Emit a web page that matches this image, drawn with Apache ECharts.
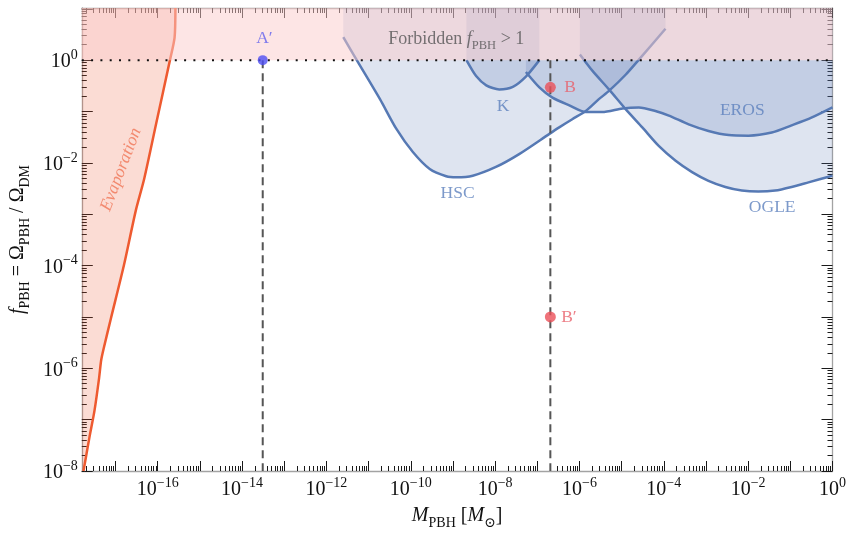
<!DOCTYPE html>
<html><head><meta charset="utf-8">
<script src="https://cdn.jsdelivr.net/npm/echarts@6/dist/echarts.min.js"></script>
<style>html,body{margin:0;padding:0;background:#fff}#c{width:849px;height:535px}</style>
</head><body><div id="c"></div>
<script>
// ---- axis ranges (log10 units) ----
const X_MIN = -17.8, X_MAX = 0;
const Y_MIN = -8, Y_MAX = 1.015;
const xLabelDecades = [-16, -14, -12, -10, -8, -6, -4, -2, 0];
const yLabelDecades = [-8, -6, -4, -2, 0];

// ---- curves: log10(M_PBH / Msun), log10(f_PBH) ----
const evapLogM = [-17.76, -17.62, -17.50, -17.39, -17.34, -17.28, -17.11, -16.80, -16.52, -16.32, -16.04, -15.71, -15.60, -15.58];
const evapLogF = [-8.0, -7.35, -6.83, -6.19, -5.84, -5.61, -5.03, -3.99, -2.93, -2.31, -1.25, 0, 0.44, 1.015];

const hscLogM = [-11.60, -11.28, -10.73, -10.34, -9.95, -9.55, -9.16, -8.92, -8.53, -7.98, -7.43, -6.72, -6.48, -6.17, -5.85, -5.54, -5.30, -4.90, -4.59, -3.96];
const hscLogF = [0.45, 0, -0.76, -1.34, -1.79, -2.12, -2.26, -2.28, -2.25, -2.08, -1.83, -1.44, -1.31, -1.15, -0.99, -0.76, -0.60, -0.28, 0.01, 0.61];

const kLogM = [-8.68, -8.45, -8.21, -7.90, -7.58, -7.27, -6.95];
const kLogF = [0, -0.31, -0.49, -0.57, -0.52, -0.32, 0];

const erosLogM = [-7.27, -6.95, -6.64, -6.24, -5.85, -5.46, -4.98, -4.59, -4.20, -3.88, -3.41, -2.94, -2.46, -1.99, -1.44, -0.97, -0.50, 0];
const erosLogF = [-0.23, -0.53, -0.73, -0.88, -1.01, -1.01, -0.94, -0.92, -0.99, -1.08, -1.25, -1.38, -1.46, -1.47, -1.41, -1.27, -1.12, -0.92];

const ogleLogM = [-5.99, -5.69, -5.30, -4.90, -4.51, -4.12, -3.72, -3.33, -2.94, -2.54, -2.15, -1.76, -1.36, -0.97, -0.57, 0];
const ogleLogF = [0.11, -0.21, -0.57, -0.96, -1.31, -1.67, -1.96, -2.18, -2.35, -2.47, -2.54, -2.56, -2.54, -2.47, -2.38, -2.25];

// ---- benchmark points ----
const pointNames = ['A′', 'B', 'B′'];
const pointLogM = [-13.51, -6.69, -6.69];
const pointLogF = [0, -0.53, -5.0];
const dashLogM = [-13.51, -6.69];
const forbiddenLogF = 0;

// ---- text labels ----
const labelText = ['A′', 'B', 'B′', 'HSC', 'K', 'EROS', 'OGLE', 'Evaporation', 'Forbidden'];
const labelLogM = [-13.47, -6.22, -6.25, -8.89, -7.81, -2.14, -1.43, -16.87, -8.92];
const labelLogF = [0.42, -0.53, -5.0, -2.60, -0.91, -0.97, -2.87, -2.13, 0.45];

// ---------------------------------------------------------------
const SERIF = "'Liberation Serif','DejaVu Serif',serif";
const BLUE_LINE = '#5679b4';
const BLUE_FILL = 'rgba(90,120,180,0.2)';
const BLUE_TEXT = '#5b7fbd';
const SMOOTH = 0.25;
const zip = (a, b) => a.map((v, i) => [v, b[i]]);

const evapPts = zip(evapLogM, evapLogF);
const hscPts = zip(hscLogM, hscLogF);
const kPts = zip(kLogM, kLogF);
const erosPts = zip(erosLogM, erosLogF);
const oglePts = zip(ogleLogM, ogleLogF);

function polygonSeries(points, color, z) {
  return {
    type: 'custom', coordinateSystem: 'cartesian2d', xAxisIndex: 0, yAxisIndex: 0,
    z: z, silent: true, clip: true, animation: false,
    data: [points[0]],
    renderItem: function (params, api) {
      return { type: 'polygon', shape: { points: points.map(p => api.coord(p)) }, style: { fill: color } };
    }
  };
}
function lineSeries(points, color, z, extra) {
  return Object.assign({
    type: 'line', data: points, symbol: 'none', showSymbol: false, silent: true, animation: false,
    xAxisIndex: 0, yAxisIndex: 0, z: z, clip: true,
    lineStyle: { color: color, width: 2.5 }
  }, extra || {});
}
function fillSeries(points, color, origin) {
  return lineSeries(points, color, 1, {
    smooth: SMOOTH, lineStyle: { width: 0, opacity: 0 },
    areaStyle: { color: color, origin: origin, opacity: 1 }
  });
}
function curveSeries(points, color) {
  return lineSeries(points, color, 3, { smooth: SMOOTH });
}

function expFmt(v) {
  const e = Math.round(v);
  return '{b|10}{s|' + (e < 0 ? '−' + (-e) : String(e)) + '}';
}
const tickRich = {
  b: { fontFamily: SERIF, fontSize: 20, color: '#111', lineHeight: 24, verticalAlign: 'bottom' },
  s: { fontFamily: SERIF, fontSize: 14, color: '#111', lineHeight: 14, verticalAlign: 'top' }
};
const nameRich = {
  n: { fontFamily: SERIF, fontSize: 20, color: '#111', lineHeight: 24, verticalAlign: 'bottom' },
  i: { fontFamily: SERIF, fontSize: 20, fontStyle: 'italic', color: '#111', lineHeight: 24, verticalAlign: 'bottom' },
  sub: { fontFamily: SERIF, fontSize: 14, color: '#111', lineHeight: 14, verticalAlign: 'bottom', padding: [0, 0, -4, 0] }
};

// tick positions
const xMajor = [], xMinor = [], yMajor = [], yMinor = [];
for (let n = -18; n <= 0; n++) {
  if (n >= X_MIN && n <= X_MAX) xMajor.push(n);
  for (let k = 2; k <= 9; k++) { const v = n + Math.log10(k); if (v >= X_MIN && v <= X_MAX) xMinor.push(v); }
}
for (let n = -8; n <= 1; n++) {
  if (n >= Y_MIN && n <= Y_MAX) yMajor.push(n);
  for (let k = 2; k <= 9; k++) { const v = n + Math.log10(k); if (v >= Y_MIN && v <= Y_MAX) yMinor.push(v); }
}

const FRAME = { show: true, onZero: false, lineStyle: { color: '#a3a3a3', width: 1.3 } };
function axis(kind, pos, ticks, len, main) {
  const isX = kind === 'x';
  const a = {
    type: 'value', min: isX ? X_MIN : Y_MIN, max: isX ? X_MAX : Y_MAX, position: pos,
    axisLine: main !== null ? FRAME : { show: false, onZero: false },
    axisTick: { show: true, inside: true, length: len, customValues: ticks, lineStyle: { color: '#1a1a1a', width: 1 } },
    axisLabel: { show: false },
    splitLine: { show: false }
  };
  if (main === 'label') {
    a.axisLabel = {
      show: true, customValues: isX ? xLabelDecades : yLabelDecades, formatter: expFmt, rich: tickRich,
      margin: isX ? 5 : 4, hideOverlap: false
    };
  }
  return a;
}

const xAxes = [
  axis('x', 'bottom', xMajor, 10, 'label'),
  axis('x', 'bottom', xMinor, 5, null),
  axis('x', 'top', xMajor, 10, 'frame'),
  axis('x', 'top', xMinor, 5, null)
];
xAxes[0].name = '{i|M}{sub|PBH}{n| [}{i|M}{sub|⊙}{n|]}';
xAxes[0].nameLocation = 'middle';
xAxes[0].nameGap = 31;
xAxes[0].nameTextStyle = { rich: nameRich };

const yAxes = [
  axis('y', 'left', yMajor, 11, 'label'),
  axis('y', 'left', yMinor, 5, null),
  axis('y', 'right', yMajor, 11, 'frame'),
  axis('y', 'right', yMinor, 5, null)
];
yAxes[0].name = '{i|f}{sub|PBH}{n| = Ω}{sub|PBH}{n| / Ω}{sub|DM}';
yAxes[0].nameLocation = 'middle';
yAxes[0].nameGap = 46;
yAxes[0].nameTextStyle = { rich: nameRich };

// labels
const labelColors = ['#6060ee', '#e8606a', '#e8606a', BLUE_TEXT, BLUE_TEXT, BLUE_TEXT, BLUE_TEXT, '#f07556', '#555555'];
const labelData = labelText.map((t, i) => {
  const lab = {
    show: true, position: 'inside', color: labelColors[i], fontFamily: SERIF, fontSize: 17.5,
    formatter: t, align: 'center', verticalAlign: 'middle'
  };
  if (t === 'Evaporation') { lab.fontStyle = 'italic'; lab.rotate = 69; lab.fontSize = 17.5; }
  if (t === 'Forbidden') {
    lab.formatter = '{n|Forbidden }{i|f}{sub|PBH}{n| > 1}';
    lab.rich = {
      n: { fontFamily: SERIF, fontSize: 18, color: '#555', lineHeight: 22, verticalAlign: 'bottom' },
      i: { fontFamily: SERIF, fontSize: 18, fontStyle: 'italic', color: '#555', lineHeight: 22, verticalAlign: 'bottom' },
      sub: { fontFamily: SERIF, fontSize: 12.5, color: '#555', lineHeight: 12, verticalAlign: 'bottom', padding: [0, 0, -4, 0] }
    };
  }
  return { value: [labelLogM[i], labelLogF[i]], label: lab };
});

const series = [
  // evaporation: region left of the (monotonic) curve = region above it
  fillSeries([[X_MIN, Y_MIN]].concat(evapPts), 'rgba(238,88,50,0.21)', 'end'),
  fillSeries(hscPts, BLUE_FILL, 'end'),
  fillSeries(kPts, BLUE_FILL, 'end'),
  fillSeries(erosPts, BLUE_FILL, forbiddenLogF),
  fillSeries(oglePts, BLUE_FILL, 'end'),
  curveSeries(evapPts, '#ee5a30'),
  curveSeries(hscPts, BLUE_LINE),
  curveSeries(kPts, BLUE_LINE),
  curveSeries(erosPts, BLUE_LINE),
  curveSeries(oglePts, BLUE_LINE),
  // forbidden band f > 1
  polygonSeries([[X_MIN, forbiddenLogF], [X_MAX, forbiddenLogF], [X_MAX, Y_MAX], [X_MIN, Y_MAX]], 'rgba(251,203,203,0.5)', 5),
  lineSeries([[X_MIN, forbiddenLogF], [X_MAX, forbiddenLogF]], '#111', 6, { lineStyle: { color: '#111', width: 2, type: [2, 7.3] } })
];
dashLogM.forEach(m => {
  series.push(lineSeries([[m, forbiddenLogF], [m, Y_MIN]], '#555', 6, { lineStyle: { color: '#555', width: 2, type: [8, 5] } }));
});
series.push({
  type: 'scatter', xAxisIndex: 0, yAxisIndex: 0, z: 8, silent: true, animation: false,
  symbolSize: 10,
  data: pointNames.map((n, i) => ({
    value: [pointLogM[i], pointLogF[i]],
    itemStyle: { color: n === 'A′' ? '#4d4df2' : '#eb5059' },
    symbolSize: n === 'A′' ? 10 : 11
  }))
});
series.push({
  type: 'scatter', xAxisIndex: 0, yAxisIndex: 0, z: 9, silent: true, animation: false,
  symbolSize: 0, itemStyle: { color: 'transparent' },
  data: labelData
});

const chart = echarts.init(document.getElementById('c'), null, { renderer: 'canvas' });
chart.setOption({
  animation: false,
  backgroundColor: '#ffffff',
  grid: { left: 81, right: 15, top: 8, bottom: 61, containLabel: false },
  xAxis: xAxes,
  yAxis: yAxes,
  series: series
});
</script>
</body></html>
